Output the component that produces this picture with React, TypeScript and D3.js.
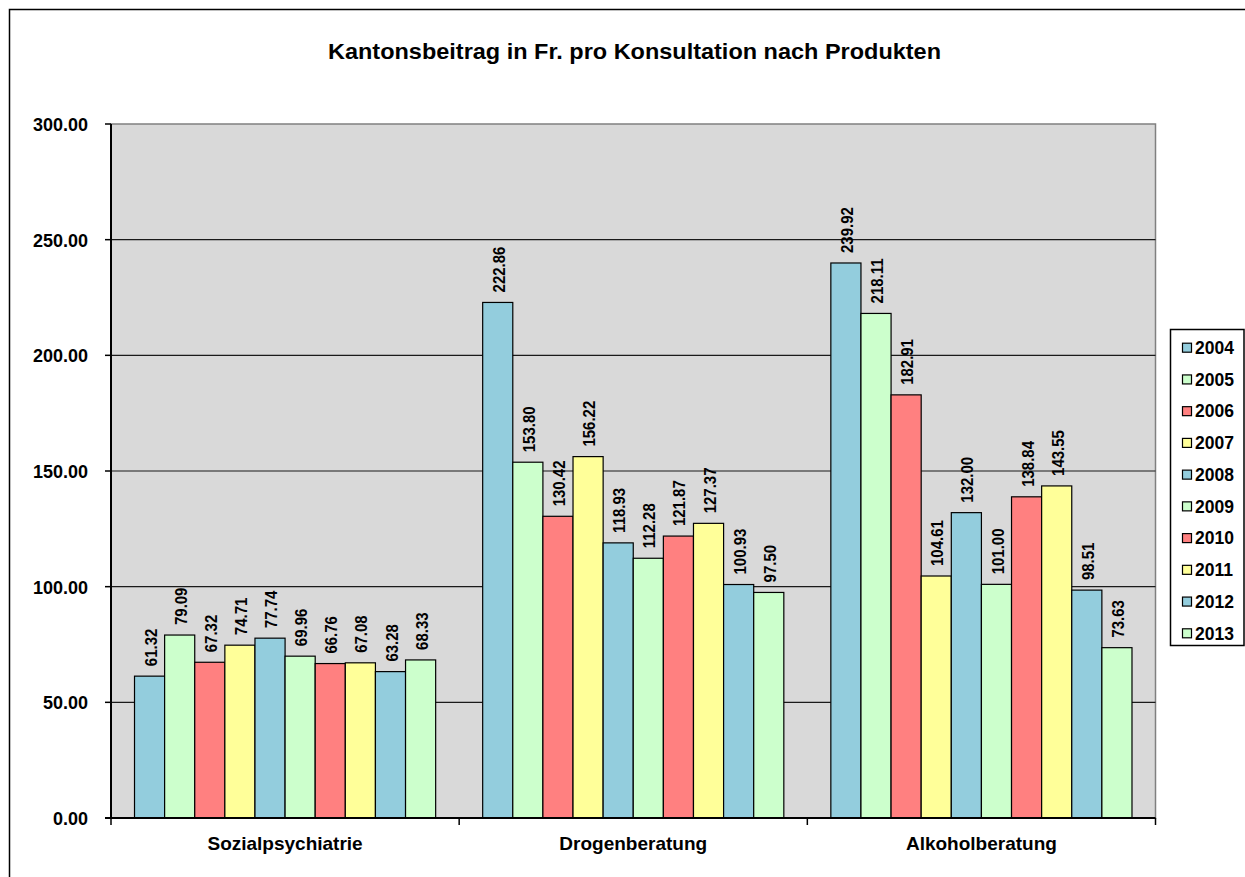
import React from "react";
import * as d3 from "d3";

const categories = ["Sozialpsychiatrie", "Drogenberatung", "Alkoholberatung"];
const years = ["2004", "2005", "2006", "2007", "2008", "2009", "2010", "2011", "2012", "2013"];
const sozialpsychiatrie = [61.32, 79.09, 67.32, 74.71, 77.74, 69.96, 66.76, 67.08, 63.28, 68.33];
const drogenberatung = [222.86, 153.8, 130.42, 156.22, 118.93, 112.28, 121.87, 127.37, 100.93, 97.5];
const alkoholberatung = [239.92, 218.11, 182.91, 104.61, 132.0, 101.0, 138.84, 143.55, 98.51, 73.63];
const yTicks = [0, 50, 100, 150, 200, 250, 300];
const yearColors = ["#93CDDD", "#CCFFCC", "#FF8080", "#FFFF99", "#93CDDD", "#CCFFCC", "#FF8080", "#FFFF99", "#93CDDD", "#CCFFCC"];

const seriesByCategory = [sozialpsychiatrie, drogenberatung, alkoholberatung];

const W = 1245;
const H = 877;
const plot = { left: 111, top: 124, right: 1155.5, bottom: 818 };
const FONT = "'Liberation Sans', Arial, sans-serif";

export default function App() {
  const y = d3.scaleLinear().domain([0, 300]).range([plot.bottom, plot.top]);
  const x0 = d3.scaleBand<string>().domain(categories).range([plot.left, plot.right]).paddingInner(0).paddingOuter(0);
  const inner = 301 / 348;
  const x1 = d3
    .scaleBand<string>()
    .domain(years)
    .range([(x0.bandwidth() * (1 - inner)) / 2, (x0.bandwidth() * (1 + inner)) / 2])
    .padding(0);

  const boundaries = [...categories.map((c) => x0(c) as number), plot.right];

  const legend = { x: 1170.5, y: 329.5, w: 73.5, h: 316 };
  const legendY = d3.scalePoint<string>().domain(years).range([347.7, 633.3]);

  return (
    <svg
      width={W}
      height={H}
      style={{ position: "absolute", left: 0, top: 0, display: "block", background: "#fff" }}
      fontFamily={FONT}
    >
      <rect x={9.5} y={9.5} width={W + 10} height={H + 10} fill="#fff" stroke="#000" strokeWidth={1.5} />

      <text
        x={634.5}
        y={58.5}
        textAnchor="middle"
        fontSize={21.5}
        fontWeight="bold"
        fill="#000"
        textLength={613}
        lengthAdjust="spacingAndGlyphs"
      >
        Kantonsbeitrag in Fr. pro Konsultation nach Produkten
      </text>

      {/* plot area */}
      <rect
        x={plot.left}
        y={plot.top}
        width={plot.right - plot.left}
        height={plot.bottom - plot.top}
        fill="#D9D9D9"
        stroke="#808080"
        strokeWidth={1.5}
      />
      {yTicks
        .filter((t) => t > 0 && t < 300)
        .map((t) => (
          <line key={t} x1={plot.left} x2={plot.right} y1={y(t)} y2={y(t)} stroke="#1a1a1a" strokeWidth={1.2} />
        ))}

      {/* bars */}
      {categories.map((c, ci) => (
        <g key={c} transform={`translate(${x0(c)},0)`}>
          {seriesByCategory[ci].map((v, i) => {
            const bx = x1(years[i]) as number;
            const bw = x1.bandwidth();
            return (
              <rect
                key={years[i]}
                x={bx}
                y={y(v)}
                width={bw}
                height={y(0) - y(v)}
                fill={yearColors[i]}
                stroke="#000"
                strokeWidth={1.2}
              />
            );
          })}
          {seriesByCategory[ci].map((v, i) => {
            const cx = (x1(years[i]) as number) + x1.bandwidth() / 2 + 1;
            const ty = y(v) - 10;
            return (
              <text
                key={"l" + years[i]}
                transform={`translate(${cx},${ty}) rotate(-90) scale(1,1.12)`}
                dy="0.36em"
                fontSize={15}
                fontWeight="bold"
                fill="#000"
              >
                {v.toFixed(2)}
              </text>
            );
          })}
        </g>
      ))}

      {/* y axis */}
      <line x1={plot.left} x2={plot.left} y1={plot.top} y2={plot.bottom} stroke="#000" strokeWidth={2} />
      {yTicks.map((t) => (
        <g key={t}>
          <line x1={105} x2={plot.left} y1={y(t)} y2={y(t)} stroke="#000" strokeWidth={1.5} />
          <text
            transform={`translate(88,${y(t)}) scale(1,1.06)`}
            dy="0.36em"
            textAnchor="end"
            fontSize={18}
            fontWeight="bold"
            fill="#000"
          >
            {t.toFixed(2)}
          </text>
        </g>
      ))}

      {/* x axis */}
      <line x1={plot.left - 6} x2={plot.right} y1={plot.bottom} y2={plot.bottom} stroke="#000" strokeWidth={2} />
      {boundaries.map((b, i) => (
        <line key={i} x1={b} x2={b} y1={plot.bottom} y2={plot.bottom + 7} stroke="#000" strokeWidth={1.5} />
      ))}
      {categories.map((c) => (
        <text
          key={c}
          x={(x0(c) as number) + x0.bandwidth() / 2}
          y={850}
          textAnchor="middle"
          fontSize={19}
          fontWeight="bold"
          fill="#000"
        >
          {c}
        </text>
      ))}

      {/* legend */}
      <rect x={legend.x} y={legend.y} width={legend.w} height={legend.h} fill="#fff" stroke="#000" strokeWidth={1.5} />
      {years.map((yr, i) => {
        const cy = legendY(yr) as number;
        return (
          <g key={yr}>
            <rect x={1182.5} y={cy - 4.5} width={9} height={9} fill={yearColors[i]} stroke="#000" strokeWidth={1.2} />
            <text x={1195} y={cy} dy="0.36em" fontSize={17.5} fontWeight="bold" fill="#000">
              {yr}
            </text>
          </g>
        );
      })}
    </svg>
  );
}
